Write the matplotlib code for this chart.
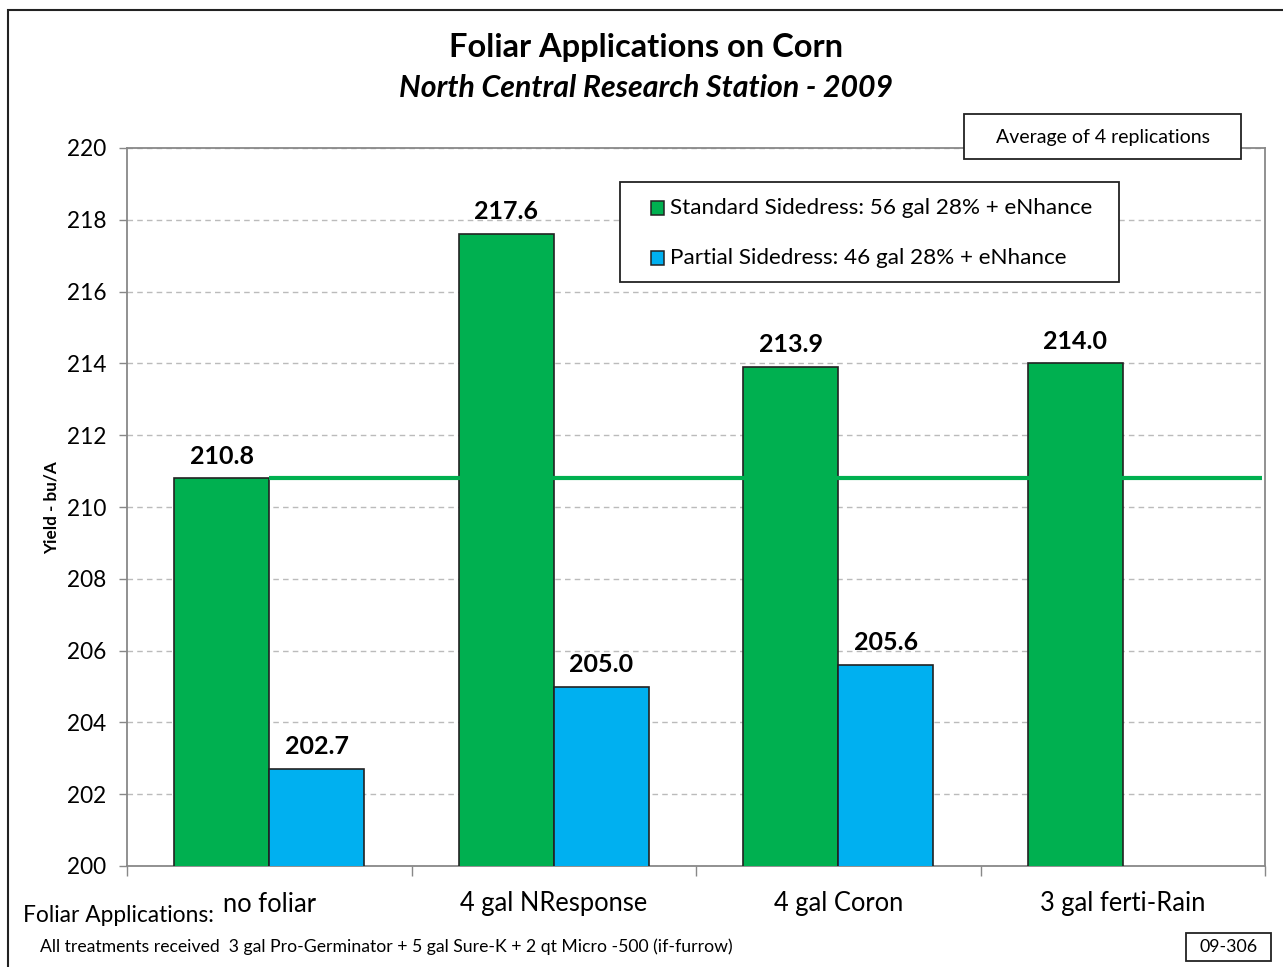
import matplotlib
matplotlib.use("Agg")
import matplotlib.pyplot as plt
import numpy as np
from matplotlib.patches import Rectangle

plt.rcParams['font.family'] = ['Lato', 'DejaVu Sans']

categories = ["no foliar", "4 gal NResponse", "4 gal Coron", "3 gal ferti-Rain"]
standard = [210.8, 217.6, 213.9, 214.0]
partial = [202.7, 205.0, 205.6, np.nan]
series_names = ["Standard Sidedress: 56 gal 28% + eNhance",
                "Partial Sidedress: 46 gal 28% + eNhance"]
yticks = [200, 202, 204, 206, 208, 210, 212, 214, 216, 218, 220]
baseline = standard[0]

green = "#00B050"
blue = "#00B0F0"

W, H = 1283, 967
fig = plt.figure(figsize=(W / 100, H / 100), dpi=100)

def fx(px):
    return px / W

def fy(py):
    return 1 - py / H

ax = fig.add_axes([fx(127), fy(866), fx(1265) - fx(127), fy(148) - fy(866)])

x = np.arange(len(categories))
bw = 1 / 3
ax.bar(x - bw / 2, standard, bw, color=green, edgecolor="#222222", linewidth=1.2, zorder=3)
ax.bar(x + bw / 2, partial, bw, color=blue, edgecolor="#222222", linewidth=1.2, zorder=3)

for xi, v in zip(x, standard):
    ax.text(xi - bw / 2, v + 0.3, f"{v:.1f}", ha="center", va="bottom",
            fontsize=18, fontweight="bold", zorder=5)
for xi, v in zip(x, partial):
    if not np.isnan(v):
        ax.text(xi + bw / 2, v + 0.3, f"{v:.1f}", ha="center", va="bottom",
                fontsize=18, fontweight="bold", zorder=5)

ax.plot([0, 3.49], [baseline, baseline], color=green, linewidth=3, zorder=4,
        solid_capstyle="butt")

ax.set_xlim(-0.5, 3.5)
ax.set_ylim(200, 220)
ax.set_yticks(yticks)
ax.set_yticklabels([str(t) for t in yticks], fontsize=16.3)
ax.yaxis.grid(True, linestyle=(0, (4, 3)), color="#bbbbbb", linewidth=1, zorder=0)
ax.set_xticks([-0.5, 0.5, 1.5, 2.5, 3.5])
ax.set_xticklabels([])
ax.tick_params(axis="x", length=7, color="#888888", width=1)
ax.tick_params(axis="y", length=6, color="#888888", width=1, pad=9)
for s in ax.spines.values():
    s.set_color("#888888")
    s.set_linewidth(1.3)

cat_y = -(904 - 866) / (866 - 148)
for xi, c in zip(x, categories):
    ax.text(xi, cat_y, c, transform=ax.get_xaxis_transform(), ha="center", va="center",
            fontsize=18.4)

fig.text(fx(52), fy(508), "Yield - bu/A", rotation=90,
         ha="center", va="center", fontsize=12.3, fontweight="bold")

fig.text(fx(646), fy(47), "Foliar Applications on Corn", ha="center", va="center",
         fontsize=23.5, fontweight="bold")
fig.text(fx(646), fy(88), "North Central Research Station - 2009", ha="center", va="center",
         fontsize=21.8, fontweight="bold", style="italic")

fig.text(fx(23), fy(915), "Foliar Applications:", ha="left", va="center", fontsize=16.4)
fig.text(fx(40), fy(947),
         "All treatments received  3 gal Pro-Germinator + 5 gal Sure-K + 2 qt Micro -500 (if-furrow)",
         ha="left", va="center", fontsize=12.7)

# Box "Average of 4 replications"
fig.patches.append(Rectangle((fx(964), fy(159)), fx(1241) - fx(964), fy(114) - fy(159),
                             transform=fig.transFigure, facecolor="white",
                             edgecolor="#222222", linewidth=1.3, zorder=10))
fig.text(fx(1102.5), fy(137), "Average of 4 replications", ha="center", va="center",
         fontsize=14, zorder=11)

# Box "09-306"
fig.patches.append(Rectangle((fx(1186), fy(961)), fx(1271) - fx(1186), fy(933) - fy(961),
                             transform=fig.transFigure, facecolor="white",
                             edgecolor="#222222", linewidth=1.3, zorder=10))
fig.text(fx(1228.5), fy(947), "09-306", ha="center", va="center", fontsize=12.9, zorder=11)

# Legend (drawn as framed box with swatches)
fig.patches.append(Rectangle((fx(620), fy(282)), fx(1119) - fx(620), fy(182) - fy(282),
                             transform=fig.transFigure, facecolor="white",
                             edgecolor="#222222", linewidth=1.3, zorder=10))
for name, col, py in zip(series_names, [green, blue], [208, 258]):
    fig.patches.append(Rectangle((fx(651), fy(py + 7)), fx(664) - fx(651), fy(py - 7) - fy(py + 7),
                                 transform=fig.transFigure, facecolor=col,
                                 edgecolor="#222222", linewidth=1.1, zorder=11))
    fig.text(fx(670), fy(py), name, ha="left", va="center", fontsize=16.2, zorder=11)

# Outer frame
fig.patches.append(Rectangle((fx(8), -0.05), 1.2, fy(10) + 0.05, transform=fig.transFigure,
                             facecolor="none", edgecolor="#222222", linewidth=1.5, zorder=0))

fig.savefig("out.png", dpi=100)
